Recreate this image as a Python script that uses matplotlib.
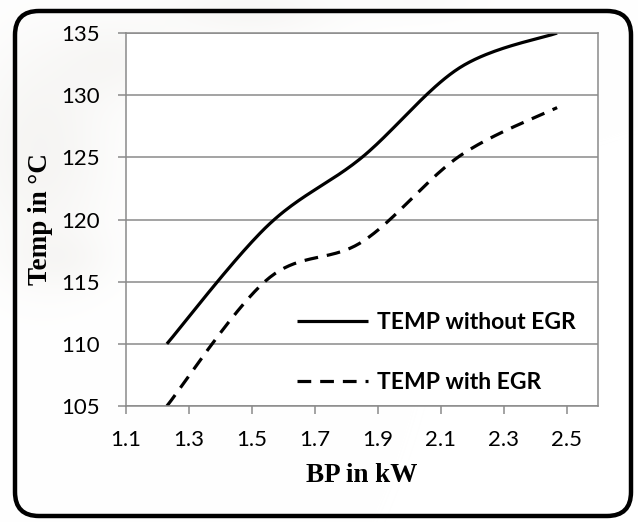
import numpy as np
import matplotlib
matplotlib.use("Agg")
import matplotlib.pyplot as plt
from matplotlib.patches import FancyBboxPatch

# ---- data ----
bp = [1.23, 1.55, 1.85, 2.16, 2.47]
temp_without_egr = [110.0, 119.5, 125.0, 132.2, 135.0]
temp_with_egr = [105.0, 115.2, 118.2, 125.1, 129.0]
series_labels = ["TEMP without EGR", "TEMP with EGR"]
xticks = [1.1, 1.3, 1.5, 1.7, 1.9, 2.1, 2.3, 2.5]
yticks = [105, 110, 115, 120, 125, 130, 135]
x_title = "BP in kW"
y_title = "Temp in \u00b0C"


def smooth(xs, ys, n=40):
    """Smoothed line through the points (Bezier with 1/6 control handles)."""
    xs = np.asarray(xs, float)
    ys = np.asarray(ys, float)
    px = np.concatenate([[xs[0]], xs, [xs[-1]]])
    py = np.concatenate([[ys[0]], ys, [ys[-1]]])
    ox, oy = [], []
    t = np.linspace(0, 1, n, endpoint=False)
    for i in range(1, len(px) - 2):
        for arr, out in ((px, ox), (py, oy)):
            p0, p1, p2, p3 = arr[i - 1], arr[i], arr[i + 1], arr[i + 2]
            c1 = p1 + (p2 - p0) / 6
            c2 = p2 - (p3 - p1) / 6
            b = ((1 - t) ** 3) * p1 + 3 * ((1 - t) ** 2) * t * c1 \
                + 3 * (1 - t) * t ** 2 * c2 + t ** 3 * p2
            out.extend(b)
    ox.append(xs[-1])
    oy.append(ys[-1])
    return np.array(ox), np.array(oy)


W, H = 638, 522
fig = plt.figure(figsize=(W / 100, H / 100), dpi=100)
fig.patch.set_facecolor("white")

# background layer in pixel coordinates
bg = fig.add_axes([0, 0, 1, 1], zorder=0)
bg.set_xlim(0, W)
bg.set_ylim(H, 0)
bg.axis("off")

# faint watermark-like shading
gx, gy = np.meshgrid(np.arange(W), np.arange(H))
shade = np.zeros((H, W))
for cx, cy, sx, sy, a in [(40, 150, 70, 110, 0.18), (250, 10, 90, 30, 0.14),
                          (120, 60, 60, 40, 0.12), (60, 260, 50, 30, 0.10),
                          (420, 0, 60, 20, 0.07)]:
    shade += a * np.exp(-(((gx - cx) / sx) ** 2 + ((gy - cy) / sy) ** 2))
shade = np.clip(shade, 0, 0.3)
img = np.ones((H, W, 3))
tint = np.array([0.80, 0.78, 0.74])
img = img * (1 - shade[..., None]) + tint * shade[..., None]
bg.imshow(img, extent=(0, W, H, 0), aspect="auto", zorder=0)

frame = FancyBboxPatch((15, 11), 631 - 15, 516 - 11,
                       boxstyle="round,pad=0,rounding_size=24",
                       fill=False, edgecolor="black", linewidth=3.2, zorder=2)
bg.add_patch(frame)

# main axes
ax = fig.add_axes([126 / W, 1 - 406 / H, (598 - 126) / W, (406 - 33) / H], zorder=1)
ax.set_facecolor("white")
ax.set_xlim(1.1, 2.6)
ax.set_ylim(105, 135)

grid_c = "#8a8a8a"
ax.set_yticks(yticks)
ax.set_xticks(xticks)
ax.yaxis.grid(True, color=grid_c, linewidth=1.1)
ax.set_axisbelow(True)
for s in ax.spines.values():
    s.set_color(grid_c)
    s.set_linewidth(1.1)

tick_font = "Lato"
ax.tick_params(axis="both", direction="out", length=6, width=1.1, color=grid_c,
               labelsize=16, labelcolor="black")
ax.tick_params(axis="y", pad=13)
ax.tick_params(axis="x", pad=11)
ax.set_xticklabels([f"{v:.1f}" for v in xticks], family=tick_font)
ax.set_yticklabels([str(v) for v in yticks], family=tick_font)

sx, sy = smooth(bp, temp_without_egr)
ax.plot(sx, sy, color="black", linewidth=2.3, solid_capstyle="butt",
        label=series_labels[0])
dx, dy = smooth(bp, temp_with_egr)
ax.plot(dx, dy, color="black", linewidth=2.3, linestyle=(0, (4.3, 2.8)),
        dash_capstyle="butt", label=series_labels[1])

leg = ax.legend(loc="upper left", bbox_to_anchor=((297 - 126) / 472, (406 - 312) / 373),
                frameon=False, borderpad=0.0, borderaxespad=0.0,
                handlelength=3.1, handletextpad=0.4, labelspacing=1.7,
                prop={"family": tick_font, "weight": "bold", "size": 16.5})

ax.set_xlabel(x_title, family="Liberation Serif", weight="bold", fontsize=19.5,
              labelpad=10)
ax.set_ylabel(y_title, family="Liberation Serif", weight="bold", fontsize=19.5,
              labelpad=6)

fig.savefig("out.png", dpi=100, facecolor=fig.get_facecolor())
